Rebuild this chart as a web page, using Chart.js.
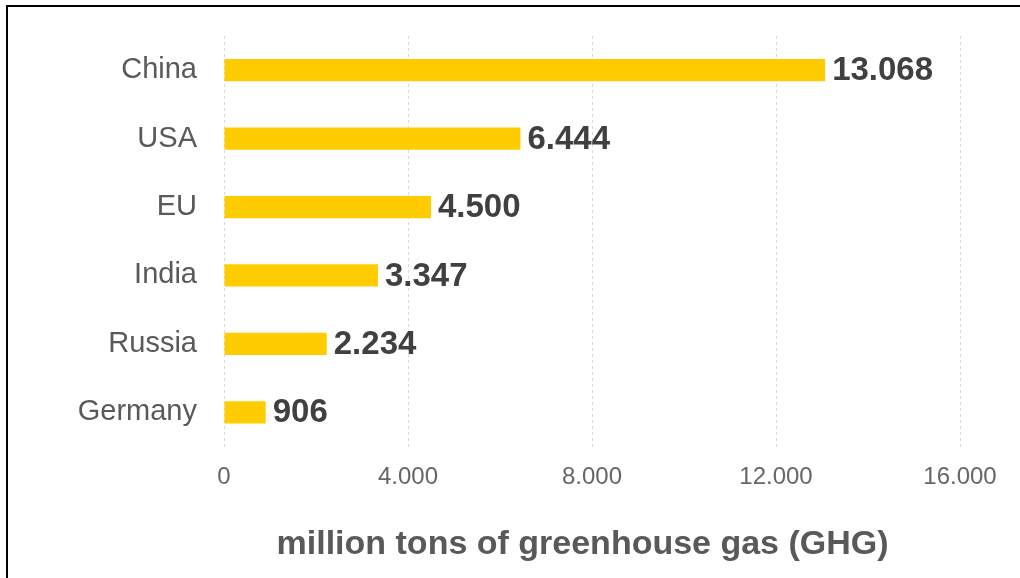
<!DOCTYPE html>
<html>
<head>
<meta charset="utf-8">
<script src="https://cdn.jsdelivr.net/npm/chart.js@4.4.1/dist/chart.umd.min.js"></script>
<style>
  html, body { margin: 0; padding: 0; background: #fff; overflow: hidden; }
  #wrap { position: relative; width: 1020px; height: 578px; }
  #c { position: absolute; left: 0; top: 0; }
  #frame { position: absolute; left: 6px; top: 5px; width: 1100px; height: 700px;
           border-left: 2px solid #000; border-top: 2px solid #000; pointer-events: none; }
</style>
</head>
<body>
<div id="wrap">
  <canvas id="c" width="1020" height="578"></canvas>
  <div id="frame"></div>
</div>
<script>
const categories = ["China", "USA", "EU", "India", "Russia", "Germany"];
const emissions = [13068, 6444, 4500, 3347, 2234, 906];
const xTickValues = [0, 4000, 8000, 12000, 16000];
const axisTitle = "million tons of greenhouse gas (GHG)";

function fmt(v) {
  return String(Math.round(v)).replace(/\B(?=(\d{3})+(?!\d))/g, ".");
}

const valueLabels = {
  id: 'valueLabels',
  afterDatasetsDraw(chart) {
    const ctx = chart.ctx;
    const meta = chart.getDatasetMeta(0);
    ctx.save();
    ctx.font = 'bold 33px "Liberation Sans", Arial, sans-serif';
    ctx.fillStyle = '#404040';
    ctx.textAlign = 'left';
    ctx.textBaseline = 'middle';
    meta.data.forEach((bar, i) => {
      ctx.fillText(fmt(chart.data.datasets[0].data[i]), bar.x + 7, bar.y + 1);
    });
    ctx.restore();
  }
};

new Chart(document.getElementById('c'), {
  type: 'bar',
  data: {
    labels: categories,
    datasets: [{
      data: emissions,
      backgroundColor: '#FFCC00',
      borderWidth: 0,
      categoryPercentage: 1,
      barPercentage: 0.326
    }]
  },
  options: {
    indexAxis: 'y',
    responsive: false,
    animation: false,
    devicePixelRatio: 1,
    layout: { padding: { top: 36, right: 60, bottom: 0, left: 0 } },
    plugins: { legend: { display: false }, tooltip: { enabled: false } },
    scales: {
      x: {
        min: 0, max: 16000,
        afterBuildTicks: (s) => { s.ticks = xTickValues.map(v => ({ value: v })); },
        afterFit: (s) => { s.height = 131.5; },
        grid: { color: '#d9d9d9', lineWidth: 1, drawTicks: false },
        border: { display: false, dash: [3, 3] },
        ticks: {
          padding: 16,
          color: '#666',
          font: { family: '"Liberation Sans", Arial, sans-serif', size: 24 },
          callback: (v) => fmt(v)
        },
        title: {
          display: true,
          text: axisTitle + "  ",
          color: '#595959',
          font: { family: '"Liberation Sans", Arial, sans-serif', size: 34, weight: 'bold' },
          padding: { top: 0, bottom: 13 }
        }
      },
      y: {
        afterFit: (s) => { s.width = 224; s.paddingTop = 0; s.paddingBottom = 0; },
        grid: { display: false, drawTicks: false },
        border: { display: false },
        ticks: {
          padding: 27,
          color: '#595959',
          font: { family: '"Liberation Sans", Arial, sans-serif', size: 29 }
        }
      }
    }
  },
  plugins: [valueLabels]
});
</script>
</body>
</html>
